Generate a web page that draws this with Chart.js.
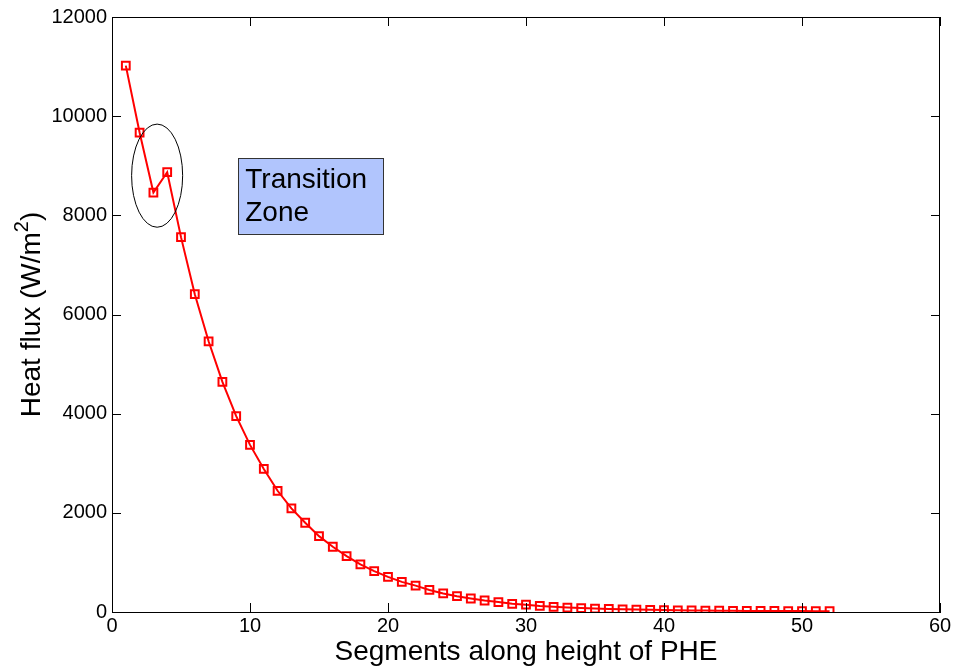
<!DOCTYPE html>
<html lang="en">
<head>
  <meta charset="UTF-8" />
  <title>Heat flux along PHE</title>
  <script src="https://cdn.jsdelivr.net/npm/chart.js"></script>
  <style>
    html, body { margin: 0; padding: 0; background: #fff; }
    #wrap { width: 956px; height: 671px; }
  </style>
</head>
<body>
  <div id="wrap"><canvas id="fluxChart" width="956" height="671"></canvas></div>

  <script>
    // segment number along the plate height
    const segments = [1, 2, 3, 4, 5, 6, 7, 8, 9, 10, 11, 12, 13, 14, 15, 16, 17, 18, 19, 20,
      21, 22, 23, 24, 25, 26, 27, 28, 29, 30, 31, 32, 33, 34, 35, 36, 37, 38, 39, 40,
      41, 42, 43, 44, 45, 46, 47, 48, 49, 50, 51, 52];

    // heat flux (W/m2)
    const heatFlux = [11020, 9670, 8460, 8870, 7560, 6410, 5460, 4640, 3950, 3370,
      2885, 2445, 2090, 1800, 1530, 1316, 1128, 962, 824, 708,
      607, 532, 445, 374, 318, 272, 232, 200, 165, 148,
      122, 104, 90, 80, 70, 62, 55, 49, 44, 39,
      35, 31, 28, 26, 24, 22, 21, 20, 19, 18, 17, 17];

    const xTicks = [0, 10, 20, 30, 40, 50, 60];
    const yTicks = [0, 2000, 4000, 6000, 8000, 10000, 12000];

    // annotation positions in data units
    const zoneEllipse = { x: 3.27, y: 8800, rx: 1.85, ry: 1040 };
    const zoneBox = { x0: 9.15, x1: 19.68, y0: 9150, y1: 7625 };
    const zoneText = ['Transition', 'Zone'];

    const points = segments.map((s, i) => ({ x: s, y: heatFlux[i] }));

    // matlab style frame: top/right lines, inward ticks on all four sides
    const frame = {
      id: 'frame',
      afterDatasetsDraw(chart) {
        const { ctx, chartArea: a, scales } = chart;
        const x = scales.x, y = scales.y;
        ctx.save();
        ctx.strokeStyle = '#000';
        ctx.lineWidth = 1;
        ctx.strokeRect(a.left + 0.5, a.top + 0.5, a.right - a.left - 1, a.bottom - a.top);
        const t = 9;
        xTicks.forEach(v => {
          const px = Math.round(x.getPixelForValue(v)) + 0.5;
          ctx.beginPath();
          ctx.moveTo(px, a.bottom); ctx.lineTo(px, a.bottom - t);
          ctx.moveTo(px, a.top); ctx.lineTo(px, a.top + t);
          ctx.stroke();
        });
        yTicks.forEach(v => {
          const py = Math.round(y.getPixelForValue(v)) + 0.5;
          ctx.beginPath();
          ctx.moveTo(a.left, py); ctx.lineTo(a.left + t, py);
          ctx.moveTo(a.right, py); ctx.lineTo(a.right - t, py);
          ctx.stroke();
        });

        // ellipse around the transition zone
        const cx = x.getPixelForValue(zoneEllipse.x);
        const cy = y.getPixelForValue(zoneEllipse.y);
        const rx = x.getPixelForValue(zoneEllipse.x + zoneEllipse.rx) - cx;
        const ry = cy - y.getPixelForValue(zoneEllipse.y + zoneEllipse.ry);
        ctx.beginPath();
        ctx.ellipse(cx, cy, rx, ry, 0, 0, Math.PI * 2);
        ctx.stroke();

        // label box
        const bx0 = x.getPixelForValue(zoneBox.x0), bx1 = x.getPixelForValue(zoneBox.x1);
        const by0 = y.getPixelForValue(zoneBox.y0), by1 = y.getPixelForValue(zoneBox.y1);
        ctx.fillStyle = '#b1c5fd';
        ctx.fillRect(bx0, by0, bx1 - bx0, by1 - by0);
        ctx.strokeStyle = '#333';
        ctx.strokeRect(Math.round(bx0) + 0.5, Math.round(by0) + 0.5, Math.round(bx1 - bx0), Math.round(by1 - by0));
        ctx.fillStyle = '#000';
        ctx.font = '28px "Liberation Sans", Arial, sans-serif';
        ctx.textBaseline = 'alphabetic';
        ctx.textAlign = 'left';
        zoneText.forEach((line, i) => ctx.fillText(line, bx0 + 7, by0 + 30 + i * 32.5));

        // axis titles
        ctx.font = '28px "Liberation Sans", Arial, sans-serif';
        ctx.textAlign = 'center';
        ctx.fillText('Segments along height of PHE', (a.left + a.right) / 2, 660);

        ctx.translate(40, (a.top + a.bottom) / 2);
        ctx.rotate(-Math.PI / 2);
        const main = 'Heat flux (W/m';
        const bigFont = '28px "Liberation Sans", Arial, sans-serif';
        const supFont = '20px "Liberation Sans", Arial, sans-serif';
        ctx.font = bigFont;
        const w1 = ctx.measureText(main).width, w3 = ctx.measureText(')').width;
        ctx.font = supFont;
        const w2 = ctx.measureText('2').width;
        let sx = -(w1 + w2 + w3) / 2;
        ctx.textAlign = 'left';
        ctx.font = bigFont;
        ctx.fillText(main, sx, 0);
        ctx.font = supFont;
        ctx.fillText('2', sx + w1, -12);
        ctx.font = bigFont;
        ctx.fillText(')', sx + w1 + w2, 0);
        ctx.restore();
      }
    };

    new Chart(document.getElementById('fluxChart'), {
      type: 'line',
      data: {
        datasets: [{
          data: points,
          borderColor: '#ff0000',
          borderWidth: 2,
          backgroundColor: 'rgba(0,0,0,0)',
          pointStyle: 'rect',
          pointRadius: 5.5,
          pointBorderWidth: 2,
          pointBorderColor: '#ff0000',
          pointBackgroundColor: 'rgba(0,0,0,0)',
          tension: 0,
          fill: false
        }]
      },
      options: {
        responsive: false,
        animation: false,
        layout: { padding: { left: 0, right: 16, top: 17, bottom: 0 } },
        plugins: { legend: { display: false }, tooltip: { enabled: false } },
        scales: {
          x: {
            type: 'linear',
            min: 0, max: 60,
            afterFit: s => { s.height = 59; },
            afterBuildTicks: s => { s.ticks = xTicks.map(v => ({ value: v })); },
            grid: { display: false, drawTicks: false },
            border: { display: true, color: '#000', width: 1 },
            ticks: { color: '#000', padding: 2, maxRotation: 0, callback: v => String(v),
              font: { family: '"Liberation Sans", Arial', size: 20 } }
          },
          y: {
            min: 0, max: 12000,
            afterFit: s => { s.width = 112; },
            afterBuildTicks: s => { s.ticks = yTicks.map(v => ({ value: v })); },
            grid: { display: false, drawTicks: false },
            border: { display: true, color: '#000', width: 1 },
            ticks: { color: '#000', padding: 5, callback: v => String(v),
              font: { family: '"Liberation Sans", Arial', size: 20 } }
          }
        }
      },
      plugins: [frame]
    });
  </script>
</body>
</html>
